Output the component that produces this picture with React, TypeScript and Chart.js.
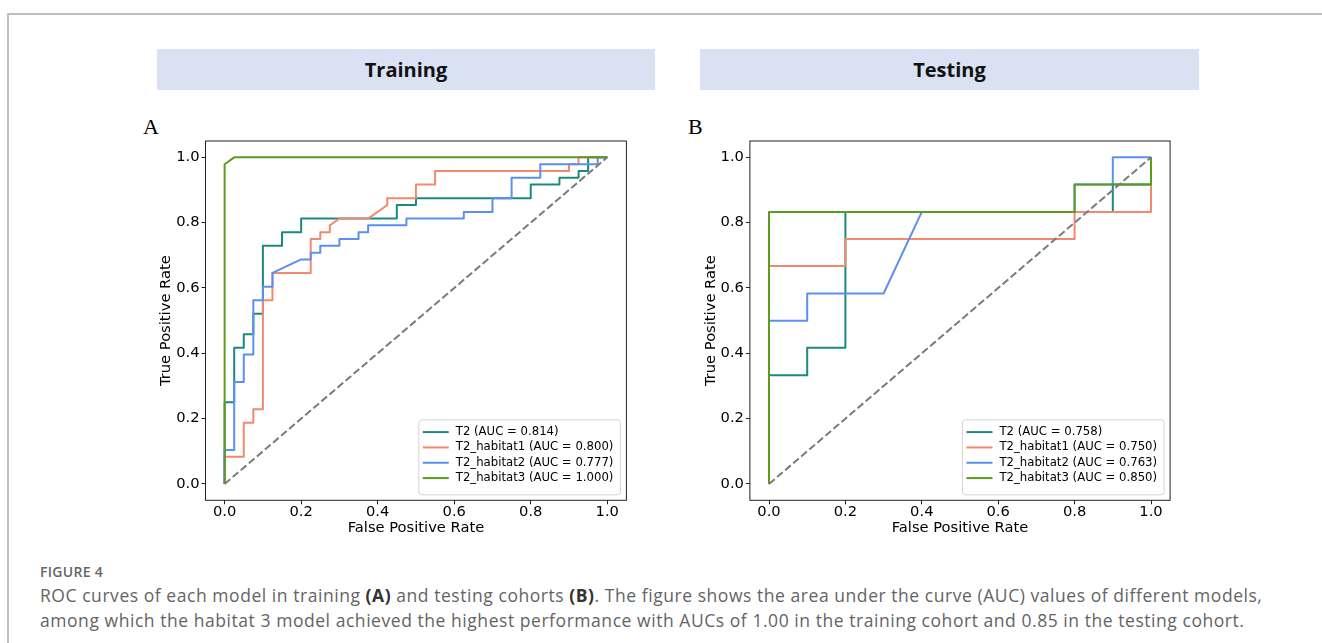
import React, { useEffect, useRef } from "react";
import { Chart, registerables } from "chart.js";

Chart.register(...registerables);

// ---------- data ----------
const modelNames = ["T2", "T2_habitat1", "T2_habitat2", "T2_habitat3"];
const modelColors = ["#1a8a80", "#f3896c", "#5b8ff2", "#5d9a20"];
const trainingAuc = ["0.814", "0.800", "0.777", "1.000"];
const testingAuc = ["0.758", "0.750", "0.763", "0.850"];
const axisTickValues = [0, 0.2, 0.4, 0.6, 0.8, 1.0];
const chanceFpr = [0, 1];
const chanceTpr = [0, 1];

// Training cohort
const trainT2Fpr = [0, 0, 0.025, 0.025, 0.05, 0.05, 0.075, 0.075, 0.1, 0.1, 0.15, 0.15, 0.2, 0.2, 0.45, 0.45, 0.5, 0.5, 0.8, 0.8, 0.875, 0.875, 0.925, 0.925, 0.95, 0.95, 1];
const trainT2Tpr = [0, 0.25, 0.25, 0.417, 0.417, 0.458, 0.458, 0.521, 0.521, 0.729, 0.729, 0.771, 0.771, 0.8125, 0.8125, 0.854, 0.854, 0.875, 0.875, 0.917, 0.917, 0.9375, 0.9375, 0.958, 0.958, 1, 1];

const trainH1Fpr = [0, 0, 0.05, 0.05, 0.075, 0.075, 0.1, 0.1, 0.125, 0.125, 0.225, 0.225, 0.25, 0.25, 0.275, 0.275, 0.3, 0.375, 0.425, 0.425, 0.5, 0.5, 0.55, 0.55, 0.9, 0.9, 0.925, 0.925, 1];
const trainH1Tpr = [0, 0.083, 0.083, 0.1875, 0.1875, 0.229, 0.229, 0.5625, 0.5625, 0.646, 0.646, 0.75, 0.75, 0.771, 0.771, 0.792, 0.8125, 0.8125, 0.854, 0.875, 0.875, 0.917, 0.917, 0.958, 0.958, 0.979, 0.979, 1, 1];

const trainH2Fpr = [0, 0, 0.025, 0.025, 0.05, 0.05, 0.075, 0.075, 0.1, 0.1, 0.125, 0.125, 0.2, 0.225, 0.225, 0.25, 0.25, 0.3, 0.3, 0.35, 0.35, 0.375, 0.375, 0.475, 0.475, 0.625, 0.625, 0.7, 0.7, 0.75, 0.75, 0.825, 0.825, 0.975, 0.975, 1];
const trainH2Tpr = [0, 0.104, 0.104, 0.3125, 0.3125, 0.396, 0.396, 0.5625, 0.5625, 0.604, 0.604, 0.646, 0.6875, 0.6875, 0.708, 0.708, 0.729, 0.729, 0.75, 0.75, 0.771, 0.771, 0.792, 0.792, 0.8125, 0.8125, 0.833, 0.833, 0.875, 0.875, 0.9375, 0.9375, 0.979, 0.979, 1, 1];

const trainH3Fpr = [0, 0, 0.025, 1];
const trainH3Tpr = [0, 0.979, 1, 1];

// Testing cohort
const testT2Fpr = [0, 0, 0.1, 0.1, 0.2, 0.2, 0.9, 0.9, 1, 1];
const testT2Tpr = [0, 0.333, 0.333, 0.417, 0.417, 0.833, 0.833, 0.917, 0.917, 1];

const testH1Fpr = [0, 0, 0.2, 0.2, 0.8, 0.8, 1, 1];
const testH1Tpr = [0, 0.667, 0.667, 0.75, 0.75, 0.833, 0.833, 1];

const testH2Fpr = [0, 0, 0.1, 0.1, 0.3, 0.4, 0.8, 0.8, 0.9, 0.9, 1];
const testH2Tpr = [0, 0.5, 0.5, 0.583, 0.583, 0.833, 0.833, 0.917, 0.917, 1, 1];

const testH3Fpr = [0, 0, 0.8, 0.8, 1, 1];
const testH3Tpr = [0, 0.833, 0.833, 0.917, 0.917, 1];

// ---------- chart ----------
const FONT = "'DejaVu Sans', sans-serif";

const rocDecor = {
  id: "rocDecor",
  afterDatasetsDraw(chart: any) {
    const { ctx, chartArea: a } = chart;
    ctx.save();
    ctx.strokeStyle = "#222";
    ctx.lineWidth = 1;
    ctx.strokeRect(a.left, a.top, a.right - a.left, a.bottom - a.top);

    const items = chart.data.datasets.filter((d: any) => d.label);
    ctx.font = `11.7px ${FONT}`;
    const maxW = Math.max(...items.map((d: any) => ctx.measureText(d.label).width));
    const boxW = 37 + maxW + 7;
    const boxH = 75;
    const right = a.right - 6;
    const bottom = a.bottom - 5.5;
    const left = right - boxW;
    const top = bottom - boxH;
    ctx.beginPath();
    ctx.roundRect(left, top, boxW, boxH, 3);
    ctx.fillStyle = "rgba(255,255,255,0.85)";
    ctx.fill();
    ctx.strokeStyle = "#d4d4d4";
    ctx.lineWidth = 1;
    ctx.stroke();
    items.forEach((d: any, i: number) => {
      const y = top + 12.3 + i * 15.33;
      ctx.beginPath();
      ctx.moveTo(left + 4, y);
      ctx.lineTo(left + 30, y);
      ctx.strokeStyle = d.borderColor;
      ctx.lineWidth = 2;
      ctx.stroke();
      ctx.fillStyle = "#000";
      ctx.textBaseline = "middle";
      ctx.textAlign = "left";
      ctx.fillText(d.label, left + 37, y);
    });
    ctx.restore();
  },
};

type RocProps = {
  left: number;
  top: number;
  width: number;
  height: number;
  area: { l: number; t: number; r: number; b: number };
  fprs: number[][];
  tprs: number[][];
  aucs: string[];
};

function RocChart({ left, top, width, height, area, fprs, tprs, aucs }: RocProps) {
  const ref = useRef<HTMLCanvasElement>(null);
  useEffect(() => {
    if (!ref.current) return;
    const datasets: any[] = fprs.map((fx, i) => ({
      label: `${modelNames[i]} (AUC = ${aucs[i]})`,
      data: fx.map((x, j) => ({ x, y: tprs[i][j] })),
      borderColor: modelColors[i],
      backgroundColor: modelColors[i],
      borderWidth: 2,
      pointRadius: 0,
      tension: 0,
      fill: false,
      borderJoinStyle: "round",
      order: fprs.length - i,
    }));
    datasets.push({
      label: "",
      data: chanceFpr.map((x, j) => ({ x, y: chanceTpr[j] })),
      borderColor: "#7a7a7a",
      borderWidth: 2,
      borderDash: [7.4, 3.2],
      pointRadius: 0,
      fill: false,
      order: -1,
    });
    const tickFont = { family: FONT, size: 14.7, lineHeight: 1 };
    const gridOpts = {
      display: true,
      drawOnChartArea: false,
      drawTicks: true,
      tickLength: 4,
      tickColor: "#222",
      color: "#222",
    };
    const setTicks = (scale: any) => {
      scale.ticks = axisTickValues.map((v) => ({ value: v }));
    };
    const chart = new Chart(ref.current, {
      type: "line",
      data: { datasets },
      plugins: [rocDecor],
      options: {
        animation: false,
        responsive: false,
        maintainAspectRatio: false,
        devicePixelRatio: 1,
        layout: { padding: { left: 0, top: area.t, right: width - area.r, bottom: 0 } },
        plugins: { legend: { display: false }, tooltip: { enabled: false } },
        scales: {
          x: {
            type: "linear",
            min: -0.05,
            max: 1.05,
            afterBuildTicks: setTicks,
            afterFit: (s: any) => {
              s.height = height - area.b;
            },
            border: { display: false },
            grid: gridOpts,
            ticks: {
              font: tickFont,
              color: "#000",
              padding: 1,
              maxRotation: 0,
              autoSkip: false,
              callback: (v: any) => Number(v).toFixed(1),
            },
            title: {
              display: true,
              text: "False Positive Rate",
              color: "#000",
              font: tickFont,
              padding: { top: 0, bottom: 14.75 },
            },
          },
          y: {
            type: "linear",
            min: -0.05,
            max: 1.05,
            afterBuildTicks: setTicks,
            afterFit: (s: any) => {
              s.width = area.l;
            },
            border: { display: false },
            grid: gridOpts,
            ticks: {
              font: tickFont,
              color: "#000",
              padding: 2,
              autoSkip: false,
              callback: (v: any) => Number(v).toFixed(1),
            },
            title: {
              display: true,
              text: "True Positive Rate",
              color: "#000",
              font: tickFont,
              padding: { top: 29, bottom: 0 },
            },
          },
        },
      } as any,
    });
    return () => chart.destroy();
  }, []);
  return (
    <canvas
      ref={ref}
      width={width}
      height={height}
      style={{ position: "absolute", left, top, width, height }}
    />
  );
}

const headerStyle: React.CSSProperties = {
  position: "absolute",
  top: 49,
  height: 41,
  lineHeight: "41px",
  background: "#dae1f2",
  textAlign: "center",
  fontFamily: "'Open Sans', sans-serif",
  fontWeight: 700,
  fontSize: 20,
  color: "#111",
};

const panelLetter: React.CSSProperties = {
  position: "absolute",
  top: 116,
  fontFamily: "'Liberation Serif', serif",
  fontSize: 22,
  lineHeight: "22px",
  color: "#000",
};

const captionLine: React.CSSProperties = {
  position: "absolute",
  left: 40,
  whiteSpace: "nowrap",
  fontFamily: "'Open Sans', sans-serif",
  fontSize: 17.5,
  lineHeight: "25px",
  letterSpacing: "0.55px",
  color: "#646464",
};

export default function App() {
  return (
    <div
      style={{
        position: "absolute",
        left: 0,
        top: 0,
        width: 1322,
        height: 643,
        overflow: "hidden",
        background: "#fff",
      }}
    >
      <div
        style={{
          position: "absolute",
          left: 7,
          top: 13,
          width: 1330,
          height: 640,
          borderTop: "2px solid #c0c0c0",
          borderLeft: "2px solid #c0c0c0",
        }}
      />
      <div style={{ ...headerStyle, left: 157, width: 498 }}>Training</div>
      <div style={{ ...headerStyle, left: 700, width: 499 }}>Testing</div>
      <div style={{ ...panelLetter, left: 143 }}>A</div>
      <div style={{ ...panelLetter, left: 688 }}>B</div>

      <RocChart
        left={130}
        top={110}
        width={510}
        height={440}
        area={{ l: 75.5, t: 31, r: 496.4, b: 390.3 }}
        fprs={[trainT2Fpr, trainH1Fpr, trainH2Fpr, trainH3Fpr]}
        tprs={[trainT2Tpr, trainH1Tpr, trainH2Tpr, trainH3Tpr]}
        aucs={trainingAuc}
      />
      <RocChart
        left={675}
        top={110}
        width={510}
        height={440}
        area={{ l: 74.9, t: 31, r: 495.1, b: 390.3 }}
        fprs={[testT2Fpr, testH1Fpr, testH2Fpr, testH3Fpr]}
        tprs={[testT2Tpr, testH1Tpr, testH2Tpr, testH3Tpr]}
        aucs={testingAuc}
      />

      <div
        style={{
          position: "absolute",
          left: 40,
          top: 564,
          fontFamily: "'Open Sans', sans-serif",
          fontWeight: 600,
          fontSize: 14,
          lineHeight: "16px",
          letterSpacing: "0.3px",
          color: "#666",
        }}
      >
        FIGURE 4
      </div>
      <div style={{ ...captionLine, top: 583 }}>
        ROC curves of each model in training <b style={{ color: "#333" }}>(A)</b> and testing cohorts{" "}
        <b style={{ color: "#333" }}>(B)</b>. The figure shows the area under the curve (AUC) values of different
        models,
      </div>
      <div style={{ ...captionLine, top: 608 }}>
        among which the habitat 3 model achieved the highest performance with AUCs of 1.00 in the training cohort and
        0.85 in the testing cohort.
      </div>
    </div>
  );
}
